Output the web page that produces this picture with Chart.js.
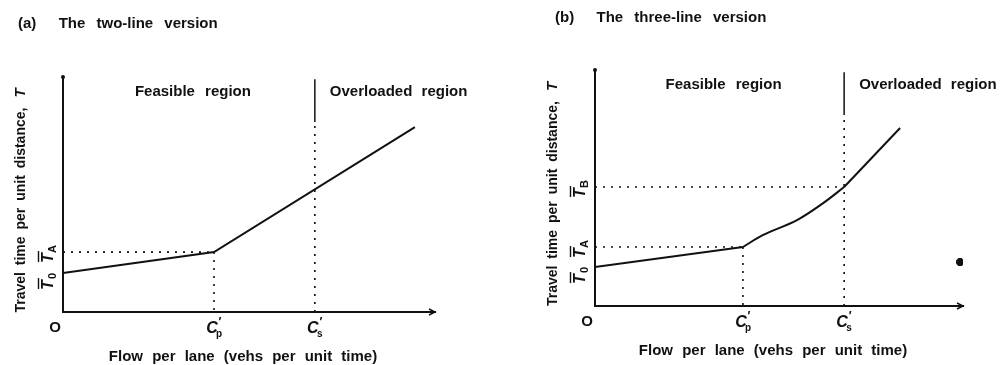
<!DOCTYPE html>
<html>
<head>
<meta charset="utf-8">
<script src="https://cdn.jsdelivr.net/npm/chart.js@4"></script>
<style>
  html, body { margin: 0; padding: 0; background: #fff; }
  #wrap { position: relative; width: 1002px; height: 365px; overflow: hidden; }
  .panel { position: absolute; top: 0; height: 365px; }
  #panelA { left: 0; width: 500px; }
  #panelB { left: 500px; width: 502px; }
</style>
</head>
<body>
<div id="wrap">
  <div class="panel" id="panelA"><canvas id="chartA"></canvas></div>
  <div class="panel" id="panelB"><canvas id="chartB"></canvas></div>
</div>
<script>
// (a) two-line cost function: flow (x) vs travel time (T)
const twoLineFlow = [0, 4.06, 9.46];
const twoLineTime = [1.66, 2.55, 7.87];
const twoLineCapacity = [4.06, 6.77];      // C'p, C's
const twoLineTicks = [1.66, 2.55];         // T0, TA

// (b) three-line cost function
const threeLineFlow = [0, 4.02, 4.57, 5.49, 6.2, 6.77, 8.29];
const threeLineTime = [1.65, 2.5, 3.01, 3.64, 4.36, 5.04, 7.54];
const threeLineCapacity = [4.02, 6.77];
const threeLineTicks = [1.65, 2.5, 5.04];  // T0, TA, TB

// where the region divider turns from dotted to solid
const dividerTop = [8.09, 9.9];

const capacityLabels = ['p', 's'];
const timeLabels = ['0', 'A', 'B'];
const strayMark = [{ x: 9.92, y: 1.86 }];

const FONT = '"Liberation Sans", Arial, sans-serif';
const INK = '#111';

const toPoints = (xs, ys) => xs.map((v, i) => ({ x: v, y: ys[i] }));

function curveSets(flow, time, capacity) {
  const pts = toPoints(flow, time);
  const base = { borderColor: INK, borderWidth: 2, pointRadius: 0, showLine: true, fill: false };
  const iP = flow.indexOf(capacity[0]);
  const iS = flow.indexOf(capacity[1]);
  if (iS < 0) return [Object.assign({ data: pts, tension: 0 }, base)];
  // straight first and last pieces, smooth middle piece
  return [
    Object.assign({ data: pts.slice(0, iP + 1), tension: 0 }, base),
    Object.assign({ data: pts.slice(iP, iS + 1), tension: 0.35 }, base),
    Object.assign({ data: pts.slice(iS), tension: 0 }, base)
  ];
}

function guideSets(capacity, ticks) {
  const sets = [];
  // horizontal guides from the T axis to the break points
  ticks.slice(1).forEach((t, i) => {
    sets.push({ data: [{ x: 0, y: t }, { x: capacity[i], y: t }], borderDash: [2, 6] });
  });
  // vertical guide under C'p
  sets.push({ data: [{ x: capacity[0], y: ticks[1] }, { x: capacity[0], y: 0 }], borderDash: [2, 6] });
  // region divider at C's: dotted below, solid on top
  sets.push({ data: [{ x: capacity[1], y: 0 }, { x: capacity[1], y: dividerTop[0] }], borderDash: [2, 6] });
  sets.push({ data: [{ x: capacity[1], y: dividerTop[0] }, { x: capacity[1], y: dividerTop[1] }], borderWidth: 1.5, borderDash: [] });
  return sets.map(s => Object.assign({ borderColor: INK, borderWidth: 1.6, pointRadius: 0, showLine: true, fill: false }, s));
}

const figureText = {
  id: 'figureText',
  afterDraw(chart, args, opts) {
    const { ctx, chartArea: area, scales: { x, y } } = chart;
    ctx.save();
    ctx.fillStyle = INK;
    ctx.strokeStyle = INK;
    ctx.textBaseline = 'middle';

    // caption
    ctx.font = `bold 15px ${FONT}`;
    ctx.textAlign = 'left';
    ctx.wordSpacing = '7px';
    ctx.fillText(opts.caption, opts.captionX, opts.captionY);

    // region labels either side of C's
    const xs = x.getPixelForValue(opts.capacity[1]);
    ctx.font = `bold 15px ${FONT}`;
    ctx.wordSpacing = '6px';
    ctx.textAlign = 'center';
    ctx.fillText('Feasible region', (area.left + xs) / 2 + 4, area.top + 15);
    ctx.textAlign = 'left';
    ctx.wordSpacing = '5px';
    ctx.fillText('Overloaded region', xs + 15, area.top + 15);

    // x axis title
    ctx.textAlign = 'center';
    ctx.wordSpacing = '5px';
    ctx.fillText('Flow per lane (vehs per unit time)', (area.left + area.right) / 2 - 6, area.bottom + 45);

    // origin
    ctx.wordSpacing = '0px';
    ctx.font = `bold 15px ${FONT}`;
    ctx.fillText('O', area.left - 8, area.bottom + 16);

    // capacity labels C'p, C's
    opts.capacity.forEach((c, i) => {
      const px = x.getPixelForValue(c);
      const py = area.bottom + 17;
      ctx.font = `italic bold 16px ${FONT}`;
      ctx.textAlign = 'center';
      ctx.fillText('C', px - 2, py);
      ctx.font = `bold 12px ${FONT}`;
      ctx.fillText('\u2032', px + 6, py - 6);
      ctx.font = `bold 10px ${FONT}`;
      ctx.fillText(capacityLabels[i], px + 5, py + 5);
    });

    // rotated time labels T0, TA, TB (T with an overbar)
    opts.ticks.forEach((t, i) => {
      const py = y.getPixelForValue(t) + (i === 0 ? 9 : 3);
      ctx.save();
      ctx.translate(area.left - 15, py);
      ctx.rotate(-Math.PI / 2);
      ctx.font = `italic bold 16px ${FONT}`;
      ctx.textAlign = 'center';
      ctx.fillText('T', -3, 1);
      ctx.lineWidth = 1.4;
      ctx.beginPath();
      ctx.moveTo(-7, -9.5);
      ctx.lineTo(4, -9.5);
      ctx.stroke();
      ctx.font = `bold 11px ${FONT}`;
      ctx.fillText(timeLabels[i], 6, 5);
      ctx.restore();
    });

    // y axis title, with an italic T at the end
    ctx.save();
    ctx.translate(area.left - 42, (area.top + area.bottom) / 2 + 6);
    ctx.rotate(-Math.PI / 2);
    ctx.font = `bold 14px ${FONT}`;
    ctx.wordSpacing = '3px';
    const label = 'Travel time per unit distance,';
    const w1 = ctx.measureText(label).width;
    ctx.font = `italic bold 15px ${FONT}`;
    const w2 = ctx.measureText('T').width;
    const start = -(w1 + 10 + w2) / 2;
    ctx.textAlign = 'left';
    ctx.font = `bold 14px ${FONT}`;
    ctx.fillText(label, start, 0);
    ctx.font = `italic bold 15px ${FONT}`;
    ctx.fillText('T', start + w1 + 10, 0);
    ctx.restore();

    // arrowheads on the axes
    ctx.lineWidth = 1.5;
    ctx.beginPath();
    ctx.moveTo(area.right - 6, area.bottom - 3);
    ctx.lineTo(area.right, area.bottom);
    ctx.lineTo(area.right - 6, area.bottom + 3);
    ctx.stroke();
    ctx.beginPath();
    ctx.arc(area.left, area.top, 2, 0, Math.PI * 2);
    ctx.fill();

    ctx.restore();
  }
};

function makeChart(id, flow, time, capacity, ticks, padding, extra, textOpts) {
  const datasets = [
    ...curveSets(flow, time, capacity),
    ...guideSets(capacity, ticks),
    ...extra
  ];
  return new Chart(document.getElementById(id).getContext('2d'), {
    type: 'scatter',
    data: { datasets },
    options: {
      responsive: true,
      maintainAspectRatio: false,
      animation: false,
      events: [],
      layout: { padding },
      plugins: {
        legend: { display: false },
        tooltip: { enabled: false },
        figureText: Object.assign({ capacity, ticks }, textOpts)
      },
      scales: {
        x: {
          type: 'linear', min: 0, max: 10,
          grid: { display: false, drawTicks: false, tickLength: 0 },
          ticks: { display: false },
          border: { display: true, color: INK, width: 2 }
        },
        y: {
          type: 'linear', min: 0, max: 10,
          grid: { display: false, drawTicks: false, tickLength: 0 },
          ticks: { display: false },
          border: { display: true, color: INK, width: 2 }
        }
      }
    },
    plugins: [figureText]
  });
}

makeChart('chartA', twoLineFlow, twoLineTime, twoLineCapacity, twoLineTicks,
  { left: 63, right: 65, top: 77, bottom: 53 }, [],
  { caption: '(a)  The two-line version', captionX: 18, captionY: 24 });

makeChart('chartB', threeLineFlow, threeLineTime, threeLineCapacity, threeLineTicks,
  { left: 95, right: 39, top: 70, bottom: 59 },
  [{ data: strayMark, pointStyle: 'star', pointRadius: 4, borderWidth: 3, borderColor: INK, backgroundColor: INK }],
  { caption: '(b)  The three-line version', captionX: 55, captionY: 18 });
</script>
</body>
</html>
